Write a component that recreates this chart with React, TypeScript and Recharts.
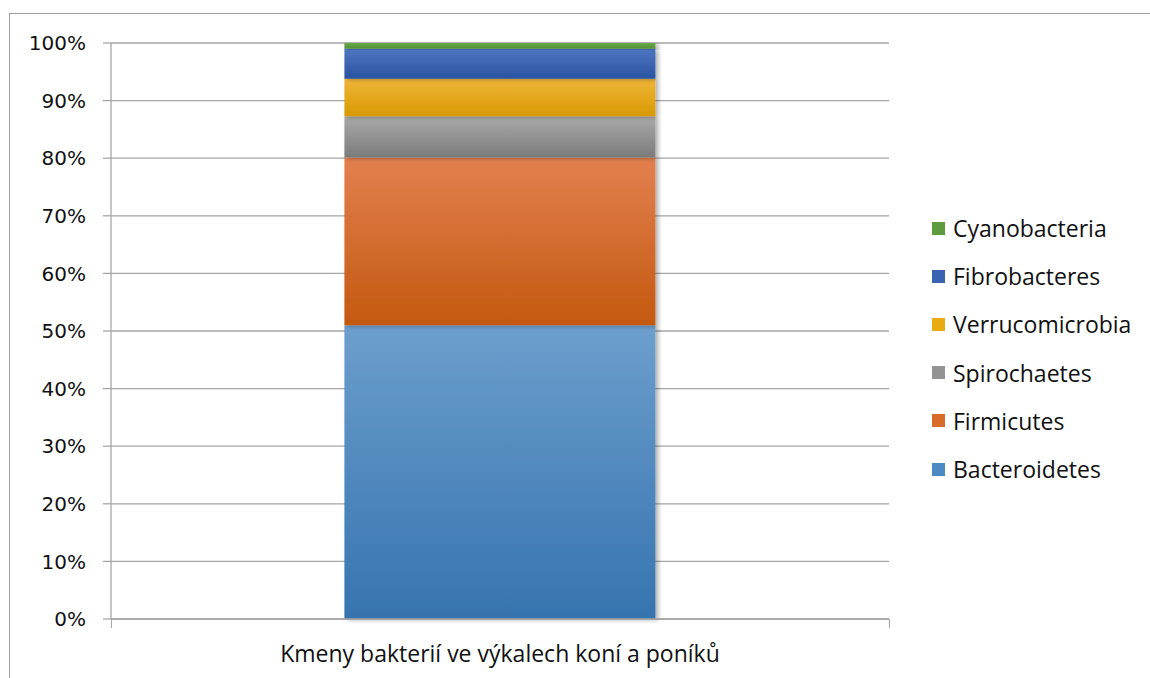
import React from 'react';
import { BarChart, Bar, XAxis, YAxis, CartesianGrid } from 'recharts';

const categories = ['Kmeny bakterií ve výkalech koní a poníků'];
const seriesNames = ['Bacteroidetes', 'Firmicutes', 'Spirochaetes', 'Verrucomicrobia', 'Fibrobacteres', 'Cyanobacteria'];
const bacteroidetes = [51.0];
const firmicutes = [29.1];
const spirochaetes = [7.2];
const verrucomicrobia = [6.5];
const fibrobacteres = [5.2];
const cyanobacteria = [1.0];
const yTicks = [0, 10, 20, 30, 40, 50, 60, 70, 80, 90, 100];

// gradient top / bottom + legend swatch
const palette: Record<string, { top: string; bottom: string; swatch: string }> = {
  Bacteroidetes: { top: '#6d9ecd', bottom: '#3674af', swatch: '#4c8ac3' },
  Firmicutes: { top: '#e2804f', bottom: '#c45910', swatch: '#d96b2a' },
  Spirochaetes: { top: '#a9a9a9', bottom: '#7b7b7b', swatch: '#939393' },
  Verrucomicrobia: { top: '#f0b63a', bottom: '#d79900', swatch: '#e9ab12' },
  Fibrobacteres: { top: '#4f76c2', bottom: '#2953a1', swatch: '#3a63b2' },
  Cyanobacteria: { top: '#6cab4b', bottom: '#4f8e34', swatch: '#5c9c3e' },
};

const values = [bacteroidetes, firmicutes, spirochaetes, verrucomicrobia, fibrobacteres, cyanobacteria];

const data = categories.map((name, i) => {
  const row: Record<string, any> = { name };
  seriesNames.forEach((s, j) => {
    row[s] = values[j][i];
  });
  return row;
});

const font = '"Open Sans", sans-serif';

const LegendBox = () => (
  <div style={{ position: 'absolute', left: 932, top: 204, fontFamily: font, fontSize: 23, color: '#111' }}>
    {[...seriesNames].reverse().map((s) => (
      <div key={s} style={{ display: 'flex', alignItems: 'center', height: 48.2 }}>
        <span style={{ width: 13, height: 13, background: palette[s].swatch, marginRight: 8, display: 'inline-block' }} />
        <span>{s}</span>
      </div>
    ))}
  </div>
);

const App: React.FC = () => {
  return (
    <div style={{ position: 'absolute', left: 0, top: 0, width: 1150, height: 678, background: '#fff', overflow: 'hidden' }}>
      {/* outer frame */}
      <div style={{ position: 'absolute', left: 9, top: 13, width: 1200, height: 700, borderLeft: '1.5px solid #a0a0a0', borderTop: '1.5px solid #a0a0a0' }} />
      <BarChart
        width={1150}
        height={678}
        data={data}
        margin={{ top: 43, right: 261, bottom: 0, left: 0 }}
        barCategoryGap="30%"
      >
        <defs>
          {seriesNames.map((s) => (
            <linearGradient key={s} id={`grad-${s}`} x1="0" y1="0" x2="0" y2="1">
              <stop offset="0%" stopColor={palette[s].top} />
              <stop offset="100%" stopColor={palette[s].bottom} />
            </linearGradient>
          ))}
          <filter id="barShadow" x="-10%" y="-10%" width="130%" height="130%">
            <feDropShadow dx="3" dy="1" stdDeviation="2" floodColor="#000" floodOpacity="0.3" />
          </filter>
        </defs>
        <CartesianGrid vertical={false} stroke="#a6a6a6" strokeWidth={1.3} />
        <XAxis
          dataKey="name"
          height={59}
          axisLine={{ stroke: '#a6a6a6', strokeWidth: 1.3 }}
          tickLine={false}
          tickMargin={21}
          tick={{ fill: '#111', fontSize: 23, fontFamily: font }}
        />
        <YAxis
          width={111}
          domain={[0, 100]}
          ticks={yTicks}
          interval={0}
          tickFormatter={(v) => `${v}%`}
          axisLine={{ stroke: '#a6a6a6', strokeWidth: 1.3 }}
          tickLine={{ stroke: '#a6a6a6', strokeWidth: 1.3 }}
          tickSize={8}
          tickMargin={17}
          tick={{ fill: '#111', fontSize: 20, fontFamily: '"DejaVu Sans", sans-serif' }}
        />
        {seriesNames.map((s) => (
          <Bar
            key={s}
            dataKey={s}
            stackId="a"
            fill={`url(#grad-${s})`}
            filter="url(#barShadow)"
            isAnimationActive={false}
          />
        ))}
      </BarChart>
      {/* category boundary ticks on the x axis */}
      <div style={{ position: 'absolute', left: 110.5, top: 619, width: 1.3, height: 9, background: '#a6a6a6' }} />
      <div style={{ position: 'absolute', left: 888.5, top: 619, width: 1.3, height: 9, background: '#a6a6a6' }} />
      <LegendBox />
    </div>
  );
};

export default App;
